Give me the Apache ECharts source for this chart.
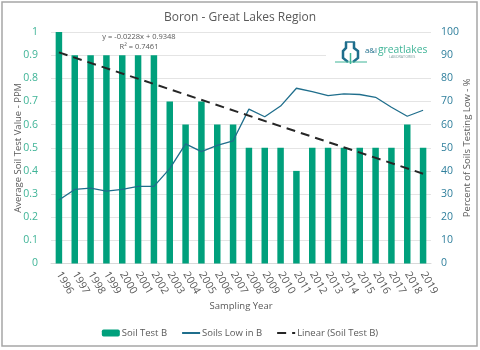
<!DOCTYPE html>
<html>
<head>
<meta charset="utf-8">
<script src="https://cdn.jsdelivr.net/npm/echarts@6/dist/echarts.min.js"></script>
<style>
html,body{margin:0;padding:0;background:#fff;}
#main{width:480px;height:350px;}
</style>
</head>
<body>
<div id="main"></div>
<script>
var years = ['1996','1997','1998','1999','2000','2001','2002','2003','2004','2005','2006','2007','2008','2009','2010','2011','2012','2013','2014','2015','2016','2017','2018','2019'];
var soilTest = [1,0.9,0.9,0.9,0.9,0.9,0.9,0.7,0.6,0.7,0.6,0.6,0.5,0.5,0.5,0.4,0.5,0.5,0.5,0.5,0.5,0.5,0.6,0.5];
var soilsLow = [27.4,32,32.6,31.3,32,33.3,33.3,41,51.7,48.3,51,53,66.7,63.4,68,75.7,74.2,72.5,73.3,73,71.8,67.5,63.6,66.2];
// trendline ends, joined straight across
var trend = [0.912,null,null,null,null,null,null,null,null,null,null,null,null,null,null,null,null,null,null,null,null,null,null,0.388];
var leftTicks = ['0','0.1','0.2','0.3','0.4','0.5','0.6','0.7','0.8','0.9','1'];

var font = '"Open Sans", "Noto Sans", sans-serif';
var green = '#00a07c';
var blue = '#1f6e8c';
var grey = '#595959';

function note(text, x, y, size, color, align){
    return {type: 'text', z: 10, x: x, y: y, style: {text: text, fontSize: size, fontFamily: font, fill: color, textAlign: align || 'left'}};
}

var myChart = echarts.init(document.getElementById('main'));
var option = {
    animation: false,
    backgroundColor: '#fff',
    textStyle: {fontFamily: font},
    title: {
        text: 'Boron - Great Lakes Region',
        left: 235, top: 7, textAlign: 'center',
        textStyle: {fontSize: 12, fontWeight: 'normal', color: grey, fontFamily: font}
    },
    grid: {left: 51, right: 49, top: 32, bottom: 86.5, outerBoundsMode: 'none'},
    legend: {
        bottom: 7, left: 'center', itemGap: 14, itemWidth: 18, itemHeight: 7,
        textStyle: {fontSize: 9.5, color: grey, padding: [0, 0, 0, -3]},
        data: [
            {name: 'Soil Test B'},
            {name: 'Soils Low in B', itemStyle: {opacity: 0}},
            {name: 'Linear (Soil Test B)', itemStyle: {opacity: 0}}
        ]
    },
    xAxis: {
        type: 'category', data: years,
        name: 'Sampling Year', nameLocation: 'middle', nameGap: 38, nameMoveOverlap: false,
        nameTextStyle: {fontSize: 9.5, color: grey},
        axisLine: {lineStyle: {color: '#d9d9d9'}},
        axisTick: {show: false},
        axisLabel: {rotate: -60, interval: 0, fontSize: 10.5, color: grey, margin: 9}
    },
    yAxis: [{
        type: 'value', min: 0, max: 1, interval: 0.1,
        name: 'Average Soil Test Value - PPM', nameLocation: 'middle', nameGap: 28, nameMoveOverlap: false,
        nameTextStyle: {fontSize: 9.5, color: grey},
        axisLine: {show: false}, axisTick: {show: false},
        axisLabel: {fontSize: 10.5, color: '#3fb497', margin: 13,
            formatter: function(v){ return leftTicks[Math.round(v*10)]; }},
        splitLine: {lineStyle: {color: '#e4e4e4'}}
    },{
        type: 'value', min: 0, max: 100, interval: 10,
        name: 'Percent of Soils Testing Low - %', nameLocation: 'middle', nameGap: 31, nameMoveOverlap: false,
        nameTextStyle: {fontSize: 9.5, color: grey},
        axisLine: {show: false}, axisTick: {show: false},
        axisLabel: {fontSize: 10.5, color: '#2f7f9c', margin: 10},
        splitLine: {show: false}
    }],
    series: [{
        name: 'Soil Test B', type: 'bar', data: soilTest,
        barWidth: '41%', itemStyle: {color: green}
    },{
        name: 'Soils Low in B', type: 'line', yAxisIndex: 1, data: soilsLow,
        symbol: 'none', lineStyle: {color: blue, width: 1.3}, itemStyle: {color: blue}
    },{
        name: 'Linear (Soil Test B)', type: 'line', data: trend, connectNulls: true,
        symbol: 'none', lineStyle: {color: '#262626', width: 2, type: [9, 6]}, itemStyle: {color: '#262626'}
    }],
    graphic: [
        {type: 'rect', z: 1, shape: {x: 2, y: 2, width: 475, height: 344}, style: {fill: 'none', stroke: '#a6a6a6', lineWidth: 1.5}},
        note('y = -0.0228x + 0.9348', 139, 33, 7.5, grey, 'center'),
        note('R\u00b2 = 0.7461', 139, 43, 7.5, grey, 'center'),
        {type: 'rect', z: 5, shape: {x: 326, y: 38, width: 105, height: 30}, style: {fill: '#fff'}},
        note('a&l', 365, 46.5, 7.8, blue),
        note('greatlakes', 378, 45.5, 10.3, '#3fb497'),
        note('LABORATORIES', 389, 55, 3.7, '#7f9f9f'),
        {type: 'polyline', z: 10, shape: {points: [[346,42],[346,48],[343,51],[343,58],[348,62]]}, style: {fill: 'none', stroke: blue, lineWidth: 2.5}},
        {type: 'polyline', z: 10, shape: {points: [[354,42],[354,48],[358,51],[358,58],[353,62]]}, style: {fill: 'none', stroke: blue, lineWidth: 2.5}},
        {type: 'line', z: 10, shape: {x1: 345, y1: 42, x2: 355, y2: 42}, style: {stroke: blue, lineWidth: 1.5}},
        {type: 'line', z: 10, shape: {x1: 335, y1: 62, x2: 367, y2: 62}, style: {stroke: '#3fb497', lineWidth: 1}},
        {type: 'line', z: 10, shape: {x1: 350.5, y1: 53, x2: 350.5, y2: 64}, style: {stroke: '#3fb497', lineWidth: 1.5}}
    ]
};
myChart.setOption(option);
</script>
</body>
</html>
